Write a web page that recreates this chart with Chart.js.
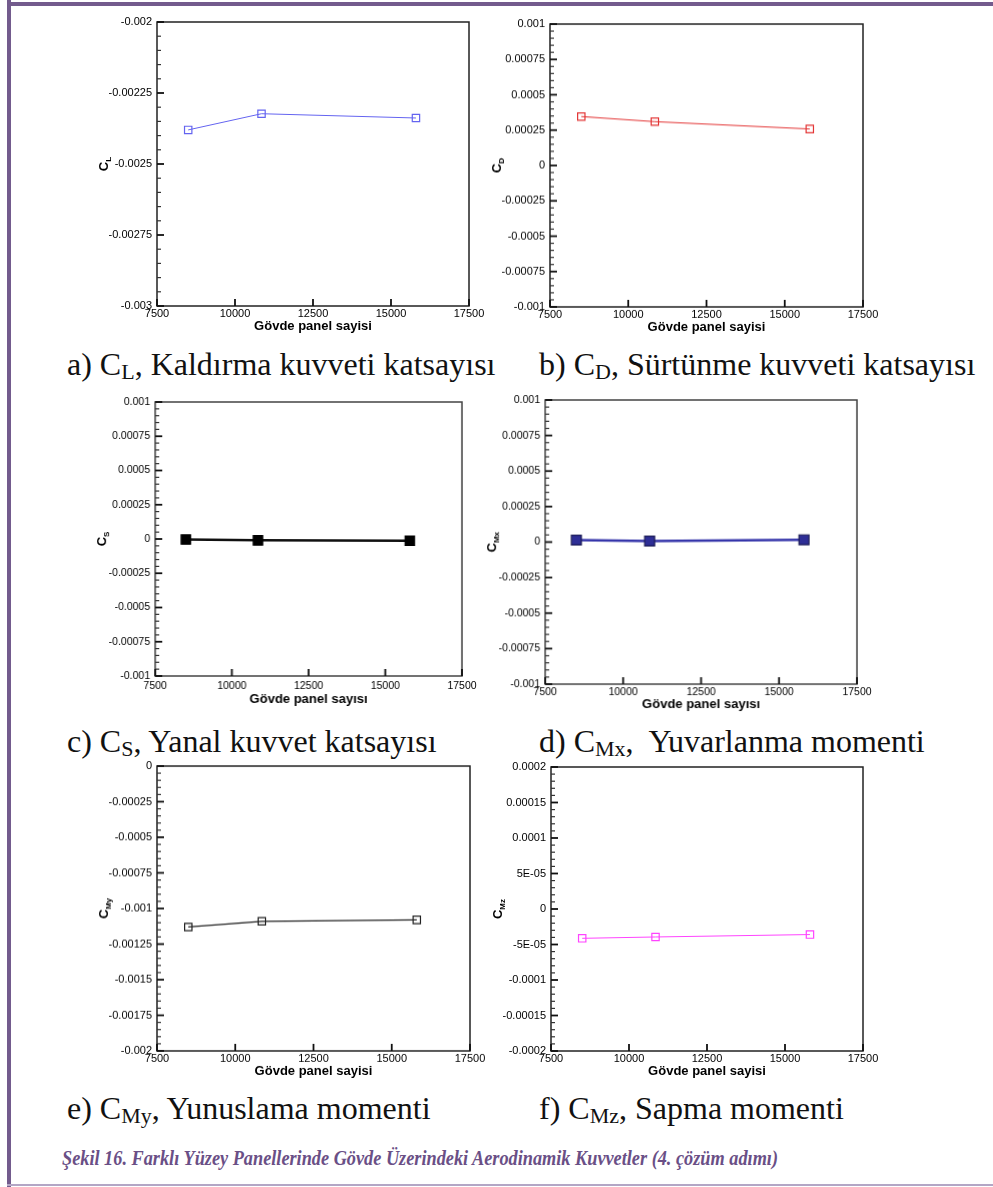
<!DOCTYPE html>
<html>
<head>
<meta charset="utf-8">
<script src="https://cdn.jsdelivr.net/npm/chart.js@4.4.1/dist/chart.umd.min.js"></script>
<style>
html,body{margin:0;padding:0;background:#fff;}
#page{position:relative;width:993px;height:1187px;overflow:hidden;background:#fff;}
canvas.cv{position:absolute;}
.cap{position:absolute;font-family:"Liberation Serif","Times New Roman",serif;font-size:32px;line-height:32px;color:#111;white-space:nowrap;}
.cap .s{font-size:22px;position:relative;top:4px;}
#fig{position:absolute;left:62px;top:1148px;font-family:"Liberation Serif","Times New Roman",serif;font-weight:bold;font-style:italic;font-size:20px;line-height:20px;color:#6a4f86;white-space:nowrap;transform-origin:0 0;}
</style>
</head>
<body>
<div id="page">
  <div style="position:absolute;left:7px;top:0;width:4px;height:1187px;background:#735b8d"></div>
  <div style="position:absolute;left:7px;top:2px;width:986px;height:4px;background:#735b8d"></div>
  <div style="position:absolute;left:7px;top:1184px;width:986px;height:2px;background:#b3a6c5"></div>

  <div class="cap" style="left:67px;top:348px">a) C<span class="s">L</span>, Kaldırma kuvveti katsayısı</div>
  <div class="cap" style="left:539px;top:348px">b) C<span class="s">D</span>, Sürtünme kuvveti katsayısı</div>
  <div class="cap" style="left:67px;top:725px">c) C<span class="s">S</span>, Yanal kuvvet katsayısı</div>
  <div class="cap" style="left:539px;top:725px">d) C<span class="s">Mx</span>,&nbsp; Yuvarlanma momenti</div>
  <div class="cap" style="left:67px;top:1092px">e) C<span class="s">My</span>, Yunuslama momenti</div>
  <div class="cap" style="left:539px;top:1092px">f) C<span class="s">Mz</span>, Sapma momenti</div>
  <div id="fig">Şekil 16. Farklı Yüzey Panellerinde Gövde Üzerindeki Aerodinamik Kuvvetler (4. çözüm adımı)</div>
</div>
<script>
// ---------------- data ----------------
const panelCounts = [8500, 10850, 15800];
const xTickValues = [7500, 10000, 12500, 15000, 17500];
const xTickLabels = ['7500', '10000', '12500', '15000', '17500'];
const xTitleSayisi = 'Gövde panel sayisi';
const xTitleSayisiDotless = 'Gövde panel sayısı';

const cL  = [-0.00238, -0.002323, -0.002338];
const cD  = [0.000346, 0.00031, 0.000258];
const cS  = [-0.000004, -0.00001, -0.000012];
const cMx = [0.000014, 0.000007, 0.000016];
const cMy = [-0.00113, -0.00109, -0.00108];
const cMz = [-0.0000413, -0.0000394, -0.000036];

const yTicksCL  = [-0.003, -0.00275, -0.0025, -0.00225, -0.002];
const yLabelsCL = ['-0.003', '-0.00275', '-0.0025', '-0.00225', '-0.002'];
const yTicksSym  = [-0.001, -0.00075, -0.0005, -0.00025, 0, 0.00025, 0.0005, 0.00075, 0.001];
const yLabelsSym = ['-0.001', '-0.00075', '-0.0005', '-0.00025', '0', '0.00025', '0.0005', '0.00075', '0.001'];
const yTicksCMy  = [-0.002, -0.00175, -0.0015, -0.00125, -0.001, -0.00075, -0.0005, -0.00025, 0];
const yLabelsCMy = ['-0.002', '-0.00175', '-0.0015', '-0.00125', '-0.001', '-0.00075', '-0.0005', '-0.00025', '0'];
const yTicksCMz  = [-0.0002, -0.00015, -0.0001, -0.00005, 0, 0.00005, 0.0001, 0.00015, 0.0002];
const yLabelsCMz = ['-0.0002', '-0.00015', '-0.0001', '-5E-05', '0', '5E-05', '0.0001', '0.00015', '0.0002'];

// ---------------- layout / style ----------------
const panels = [
  {values: cL,  yT: yTicksCL,  yL: yLabelsCL,  sub: 'L',  xTitle: xTitleSayisi,
   L: 157.3, T: 22,    R: 469,   B: 306.3,  lab: 1.4, tdy: 20.4, fs: 11,
   line: '#6464f0', pt: '#6464f0', fill: 'rgba(0,0,0,0)', lw: 1, r: 5.2, frame: '#222'},
  {values: cD,  yT: yTicksSym, yL: yLabelsSym, sub: 'D',  xTitle: xTitleSayisi,
   L: 550.3, T: 24.3,  R: 863,   B: 306.7,  lab: 1.7, tdy: 20,   fs: 11,
   line: '#e33535', pt: '#e33535', fill: 'rgba(0,0,0,0)', lw: 1, r: 5.2, frame: '#222'},
  {values: cS,  yT: yTicksSym, yL: yLabelsSym, sub: 'S',  xTitle: xTitleSayisiDotless,
   L: 155.3, T: 401.7, R: 461.7, B: 675.7,  lab: 3.4, tdy: 23.3, fs: 10.5,
   line: '#111', pt: '#000', fill: '#000', lw: 2.5, r: 6.6, frame: '#444'},
  {values: cMx, yT: yTicksSym, yL: yLabelsSym, sub: 'Mx', xTitle: xTitleSayisiDotless,
   L: 545.3, T: 399.7, R: 856.7, B: 684.3,  lab: 1.4, tdy: 20.7, fs: 10.5,
   line: '#3535aa', pt: '#1c1c55', fill: '#2e2e96', lw: 2.5, r: 7, frame: '#444'},
  {values: cMy, yT: yTicksCMy, yL: yLabelsCMy, sub: 'My', xTitle: xTitleSayisi,
   L: 157.3, T: 766.3, R: 470,   B: 1050.7, lab: 1.0, tdy: 20.3, fs: 11,
   line: '#222', pt: '#222', fill: 'rgba(0,0,0,0)', lw: 1.2, r: 5.2, frame: '#222'},
  {values: cMz, yT: yTicksCMz, yL: yLabelsCMz, sub: 'Mz', xTitle: xTitleSayisi,
   L: 551.3, T: 766.7, R: 863,   B: 1050.7, lab: 1.0, tdy: 20.3, fs: 11,
   line: '#ff44ff', pt: '#ff44ff', fill: 'rgba(0,0,0,0)', lw: 1, r: 5.2, frame: '#222'}
];

const PADL = 75, PADR = 25, PADT = 12, PADB = 40;

function makeFramePlugin(p) {
  return {
    id: 'frameTicks',
    afterDraw(chart) {
      const ctx = chart.ctx;
      const a = chart.chartArea;
      const x = chart.scales.x, y = chart.scales.y;
      ctx.save();
      ctx.strokeStyle = p.frame;
      ctx.lineWidth = 1.5;
      ctx.strokeRect(a.left, a.top, a.right - a.left, a.bottom - a.top);
      const yt = p.yT;
      for (let i = 0; i < yt.length; i++) {
        const py = y.getPixelForValue(yt[i]);
        ctx.strokeStyle = '#111';
        ctx.lineWidth = 1.8;
        ctx.beginPath();
        ctx.moveTo(a.left, py); ctx.lineTo(a.left + 7, py);
        ctx.stroke();
        if (i < yt.length - 1) {
          ctx.strokeStyle = '#333';
          ctx.lineWidth = 1.2;
          for (let k = 1; k < 5; k++) {
            const mp = y.getPixelForValue(yt[i] + (yt[i + 1] - yt[i]) * k / 5);
            ctx.beginPath();
            ctx.moveTo(a.left, mp); ctx.lineTo(a.left + 4, mp);
            ctx.stroke();
          }
        }
      }
      ctx.strokeStyle = '#111';
      ctx.lineWidth = 1.8;
      for (let j = 0; j < xTickValues.length; j++) {
        const px = x.getPixelForValue(xTickValues[j]);
        ctx.beginPath();
        ctx.moveTo(px, a.bottom); ctx.lineTo(px, a.bottom - 7);
        ctx.stroke();
      }
      // rotated y-axis title with subscript
      ctx.translate(a.left - 48.6, (a.top + a.bottom) / 2);
      ctx.rotate(-Math.PI / 2);
      ctx.fillStyle = '#000';
      ctx.textBaseline = 'alphabetic';
      ctx.textAlign = 'left';
      ctx.font = 'bold 13px "Liberation Sans", Arial, sans-serif';
      const cw = ctx.measureText('C').width;
      ctx.font = 'bold 8px "Liberation Sans", Arial, sans-serif';
      const sw = ctx.measureText(p.sub).width;
      const x0 = -(cw + sw) / 2;
      ctx.font = 'bold 13px "Liberation Sans", Arial, sans-serif';
      ctx.fillText('C', x0, 0);
      ctx.font = 'bold 8px "Liberation Sans", Arial, sans-serif';
      ctx.fillText(p.sub, x0 + cw, 3);
      ctx.restore();
    }
  };
}

const page = document.getElementById('page');
panels.forEach(p => {
  const cv = document.createElement('canvas');
  cv.className = 'cv';
  const w = (p.R - p.L) + PADL + PADR;
  const h = (p.B - p.T) + PADT + PADB;
  cv.style.left = (p.L - PADL) + 'px';
  cv.style.top = (p.T - PADT) + 'px';
  cv.style.width = w + 'px';
  cv.style.height = h + 'px';
  cv.width = Math.round(w); cv.height = Math.round(h);
  page.appendChild(cv);
  const tickFont = {family: '"Liberation Sans", Arial, sans-serif', size: p.fs};
  new Chart(cv, {
    type: 'line',
    data: {
      datasets: [{
        data: panelCounts.map((xv, i) => ({x: xv, y: p.values[i]})),
        borderColor: p.line,
        borderWidth: p.lw,
        pointStyle: 'rect',
        pointRadius: p.r,
        pointBorderColor: p.pt,
        pointBackgroundColor: p.fill,
        pointBorderWidth: 1.2,
        tension: 0,
        fill: false
      }]
    },
    options: {
      responsive: false,
      animation: false,
      devicePixelRatio: 1,
      events: [],
      layout: {padding: {left: 0, right: PADR, top: PADT, bottom: 0}},
      plugins: {
        legend: {display: false},
        tooltip: {enabled: false}
      },
      scales: {
        x: {
          type: 'linear',
          min: xTickValues[0], max: xTickValues[xTickValues.length - 1],
          grid: {display: false, drawTicks: false, tickLength: 0},
          border: {display: false},
          afterBuildTicks: s => { s.ticks = xTickValues.map(v => ({value: v})); },
          afterFit: s => { s.height = PADB; },
          ticks: {
            autoSkip: false, maxRotation: 0, minRotation: 0,
            padding: p.lab, color: '#000', font: tickFont,
            callback: (v, i) => xTickLabels[i]
          },
          title: {
            display: true, text: p.xTitle, color: '#000',
            font: {family: '"Liberation Sans", Arial, sans-serif', size: 13, weight: 'bold'},
            padding: {top: 0, bottom: PADB - p.tdy - 7.8}
          }
        },
        y: {
          type: 'linear',
          min: p.yT[0], max: p.yT[p.yT.length - 1],
          grid: {display: false, drawTicks: false, tickLength: 0},
          border: {display: false},
          afterBuildTicks: s => { s.ticks = p.yT.map(v => ({value: v})); },
          afterFit: s => { s.width = PADL; },
          ticks: {
            autoSkip: false, padding: 5, color: '#000', font: tickFont,
            callback: (v, i) => p.yL[i]
          }
        }
      }
    },
    plugins: [makeFramePlugin(p)]
  });
});

// condense the figure caption to the reference width
const fig = document.getElementById('fig');
const natural = fig.getBoundingClientRect().width;
fig.style.transform = 'scaleX(' + (716 / natural) + ')';
</script>
</body>
</html>
